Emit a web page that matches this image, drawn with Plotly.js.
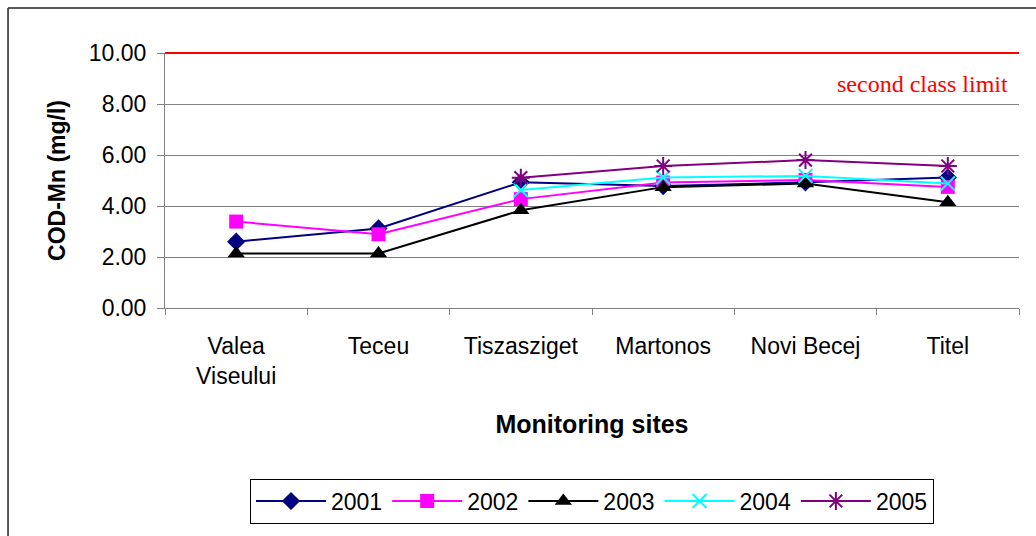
<!DOCTYPE html>
<html>
<head>
<meta charset="utf-8">
<script src="https://cdn.plot.ly/plotly-3.0.1.min.js"></script>
<style>
html,body{margin:0;padding:0;background:#fff;}
#chart{width:1036px;height:536px;}
</style>
</head>
<body>
<div id="chart"></div>
<script>
const sites = ["Valea<br>Viseului", "Teceu", "Tiszasziget", "Martonos", "Novi Becej", "Titel"];
const years = ["2001", "2002", "2003", "2004", "2005"];
const v2001 = [2.60, 3.12, 4.93, 4.78, 4.93, 5.12];
const v2002 = [3.39, 2.89, 4.27, 4.92, 5.02, 4.75];
const v2003 = [2.14, 2.14, 3.83, 4.74, 4.88, 4.15];
const v2004 = [null, null, 4.63, 5.12, 5.18, 4.88];
const v2005 = [null, null, 5.11, 5.57, 5.80, 5.57];
const limitValue = 10;
const limitLabel = "second class limit";
const yMax = 10;

const styles = [
  {color: "#000080", symbol: "diamond", size: 14, lw: 0},
  {color: "#FF00FF", symbol: "square", size: 14, lw: 0},
  {color: "#000000", symbol: "triangle-up", size: 15, lw: 0},
  {color: "#00FFFF", symbol: "x-thin-open", size: 14, lw: 2},
  {color: "#800080", symbol: "asterisk-open", size: 15, lw: 2}
];
const series = [v2001, v2002, v2003, v2004, v2005];

const traces = series.map((vals, i) => ({
  type: "scatter",
  mode: "lines+markers",
  name: years[i],
  x: sites,
  y: vals,
  connectgaps: false,
  line: {color: styles[i].color, width: 2},
  marker: {
    symbol: styles[i].symbol,
    size: styles[i].size,
    color: styles[i].color,
    line: {color: styles[i].color, width: styles[i].lw}
  }
}));

const F = "Liberation Sans, Arial, sans-serif";

const layout = {
  width: 1036, height: 536,
  paper_bgcolor: "#fff", plot_bgcolor: "#fff",
  margin: {l: 165, r: 17, t: 53, b: 228},
  showlegend: true,
  legend: {
    orientation: "h", x: 0.5, xanchor: "center", y: -0.757, yanchor: "middle",
    bordercolor: "#000", borderwidth: 1,
    font: {family: F, size: 23, color: "#000"},
    traceorder: "normal", itemwidth: 70
  },
  xaxis: {
    type: "category",
    range: [-0.5, 5.5],
    tickson: "boundaries",
    ticks: "outside", ticklen: 6, tickcolor: "#808080",
    showline: true, linecolor: "#808080", linewidth: 1,
    showgrid: false, zeroline: false,
    tickfont: {family: F, size: 23, color: "#000"},
    ticklabelstandoff: 17,
    title: {text: "<b>Monitoring sites</b>", font: {family: F, size: 25, color: "#000"}, standoff: 27},
    automargin: false
  },
  yaxis: {
    range: [0, yMax], dtick: 2, tickformat: ".2f",
    ticks: "outside", ticklen: 7, tickcolor: "#808080",
    showline: true, linecolor: "#808080", linewidth: 1,
    showgrid: true, gridcolor: "#808080", gridwidth: 1,
    zeroline: false,
    tickfont: {family: F, size: 23, color: "#000"},
    ticklabelstandoff: 6,
    title: {text: "<b>COD-Mn (mg/l)</b>", font: {family: F, size: 23, color: "#000"}, standoff: 16},
    automargin: false
  },
  shapes: [
    {type: "line", xref: "paper", yref: "paper", x0: 0, x1: 1, y0: limitValue / yMax, y1: limitValue / yMax,
     line: {color: "#FF0000", width: 2}, layer: "above"},
    {type: "line", xref: "paper", yref: "paper", x0: -0.1838, x1: -0.1838, y0: 1.1765, y1: -1.2,
     line: {color: "#222", width: 1.5}},
    {type: "line", xref: "paper", yref: "paper", x0: -0.1838, x1: 1.1, y0: 1.1765, y1: 1.1765,
     line: {color: "#222", width: 1.5}}
  ],
  annotations: [
    {xref: "paper", yref: "y", x: 0.99, y: limitValue * 0.878, xanchor: "right", yanchor: "middle",
     text: limitLabel, showarrow: false,
     font: {family: "Liberation Serif, Times New Roman, serif", size: 24, color: "#FF0000"}}
  ]
};

Plotly.newPlot("chart", traces, layout, {displayModeBar: false, staticPlot: true});
</script>
</body>
</html>
